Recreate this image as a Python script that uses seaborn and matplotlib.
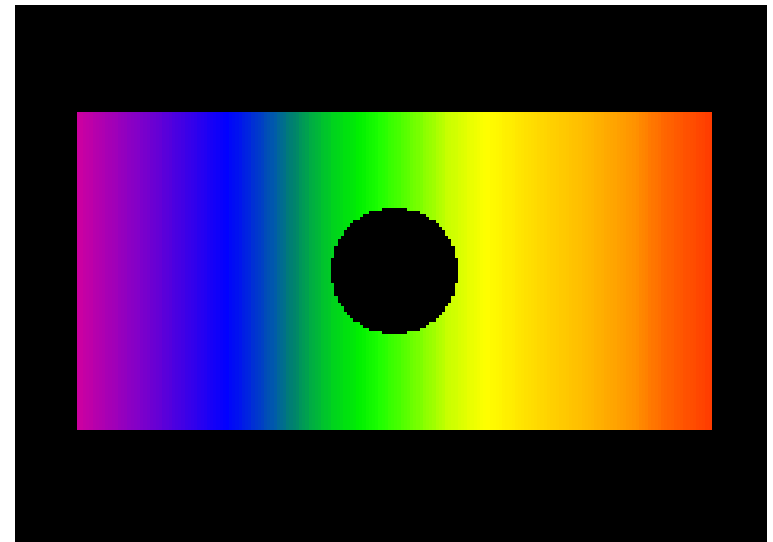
import matplotlib
matplotlib.use("Agg")
import matplotlib.pyplot as plt
from matplotlib.colors import LinearSegmentedColormap
import numpy as np
import pandas as pd
import seaborn as sns

# channel and cylinder geometry (data units)
channel_x = (0.0, 2.0)
channel_y = (0.0, 1.0)
spacing = 0.01
cylinder_center = (1.0, 0.5)
cylinder_radius = 0.2

# colour ramp: x position -> rgb
stop_x = [0.0, 0.19, 0.387, 0.472, 0.545, 0.617, 0.68, 0.734, 0.806, 0.89, 0.954,
          1.04, 1.17, 1.29, 1.44, 1.59, 1.75, 1.86, 2.0]
stop_rgb = [(205, 0, 160), (130, 0, 200), (40, 0, 240), (0, 0, 255), (0, 40, 220),
            (0, 90, 170), (0, 130, 110), (0, 170, 70), (0, 210, 30), (0, 240, 0),
            (30, 255, 0), (90, 255, 0), (200, 255, 0), (255, 255, 0), (255, 220, 0),
            (255, 190, 0), (255, 150, 0), (255, 100, 0), (255, 60, 0)]

xs = np.arange(channel_x[0] + spacing / 2, channel_x[1], spacing)
ys = np.arange(channel_y[0] + spacing / 2, channel_y[1], spacing)
gx, gy = np.meshgrid(xs, ys)
df = pd.DataFrame({"x": gx.ravel(), "y": gy.ravel()})
r = np.hypot(df.x - cylinder_center[0], df.y - cylinder_center[1])
df = df[r > cylinder_radius]

span = channel_x[1] - channel_x[0]
cmap = LinearSegmentedColormap.from_list(
    "flow", [((sx - channel_x[0]) / span, tuple(c / 255 for c in rgb)) for sx, rgb in zip(stop_x, stop_rgb)]
)

fig = plt.figure(figsize=(7.73, 5.42), dpi=100)
ax = fig.add_axes([15 / 773, 0, 752 / 773, 537 / 542])
ax.set_facecolor("black")

sns.scatterplot(data=df, x="x", y="y", hue="x", palette=cmap, hue_norm=channel_x,
                marker="s", s=7, linewidth=0, legend=False, ax=ax)

ax.set_xlim(-0.195, 2.173)
ax.set_ylim(-0.352, 1.336)
ax.set_xticks([])
ax.set_yticks([])
ax.set_xlabel("")
ax.set_ylabel("")
for sp in ax.spines.values():
    sp.set_visible(False)

fig.savefig("out.png", dpi=100, facecolor="white")
